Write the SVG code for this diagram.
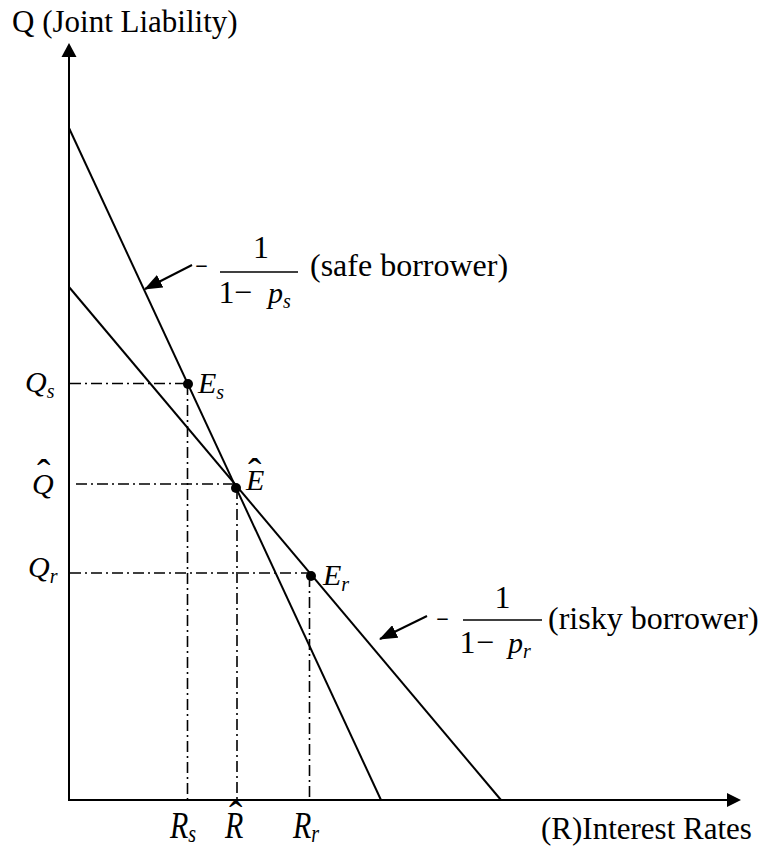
<svg xmlns="http://www.w3.org/2000/svg" width="759" height="847" viewBox="0 0 759 847">
<style>
text{font-family:"Liberation Serif","Times New Roman",serif;fill:#000}
.t{font-size:31px}
.f{font-size:32px}
.m{font-size:30px;font-style:italic}
.sub{font-size:20px;font-style:italic}
.hat{font-size:40px}
.ax{stroke:#000;stroke-width:2;fill:none}
.ln{stroke:#000;stroke-width:2;fill:none}
.dd{stroke:#000;stroke-width:1.6;fill:none;stroke-dasharray:11 4 2 4}
.bar{stroke:#000;stroke-width:1.6}
</style>
<defs>
<marker id="ah" markerUnits="userSpaceOnUse" markerWidth="18" markerHeight="14" refX="17" refY="7" orient="auto">
<path d="M0,0 L18,7 L0,14 z" fill="#000"/>
</marker>
</defs>
<g id="axes">
<line class="ax" x1="69" y1="801" x2="69" y2="56"/>
<polygon points="69,43 61.5,57 76.5,57" fill="#000"/>
<line class="ax" x1="68" y1="800" x2="728" y2="800"/>
<polygon points="741,800 727,793 727,807" fill="#000"/>
<text class="t" x="12" y="32">Q (Joint Liability)</text>
<text class="t" x="541" y="839">(R)Interest Rates</text>
</g>
<g id="connectors">
<line class="ln" x1="69" y1="128" x2="381" y2="800"/>
<line class="ln" x1="69" y1="287" x2="501" y2="800"/>
<line class="dd" x1="70" y1="383.5" x2="188" y2="383.5"/>
<line class="dd" x1="76" y1="484" x2="236" y2="484"/>
<line class="dd" x1="70" y1="573" x2="311" y2="573"/>
<line class="dd" x1="187.5" y1="384" x2="187.5" y2="800"/>
<line class="dd" x1="237" y1="488" x2="237" y2="800"/>
<line class="dd" x1="309.5" y1="576" x2="309.5" y2="800"/>
<line class="ln" x1="192" y1="265" x2="145" y2="289" marker-end="url(#ah)"/>
<line class="ln" x1="427" y1="616" x2="380" y2="639" marker-end="url(#ah)"/>
</g>
<g id="Es">
<circle cx="188" cy="384" r="5"/>
<text class="m" x="198" y="393">E<tspan class="sub" dy="6">s</tspan></text>
</g>
<g id="Ehat">
<circle cx="236" cy="488" r="5"/>
<text class="m" x="246" y="490">E</text>
<text class="hat" x="248" y="486">ˆ</text>
</g>
<g id="Er">
<circle cx="311" cy="576" r="5"/>
<text class="m" x="323" y="585">E<tspan class="sub" dy="6">r</tspan></text>
</g>
<g id="Qlabels">
<text class="m" x="25" y="392">Q<tspan class="sub" dy="6">s</tspan></text>
<text class="m" x="32" y="494">Q</text>
<text class="hat" x="37" y="487">ˆ</text>
<text class="m" x="28" y="577">Q<tspan class="sub" dy="6">r</tspan></text>
</g>
<g id="Rlabels">
<text class="m" transform="translate(170,838) scale(1,1.25)">R<tspan class="sub" dy="3">s</tspan></text>
<text class="m" transform="translate(225,838) scale(1,1.25)">R</text>
<text class="hat" x="229" y="829">ˆ</text>
<text class="m" transform="translate(293,838) scale(1,1.25)">R<tspan class="sub" dy="3">r</tspan></text>
</g>
<g id="safe-label">
<text class="f" transform="translate(195,277) scale(0.7,1)">−</text>
<text class="f" x="261" y="258" text-anchor="middle">1</text>
<line class="bar" x1="220" y1="272" x2="298" y2="272"/>
<text class="f" x="218.5" y="303">1</text>
<text class="f" x="234" y="303">−</text>
<text class="m" x="268" y="303" font-size="32">p<tspan class="sub" dy="5">s</tspan></text>
<text class="f" x="310" y="276">(safe borrower)</text>
</g>
<g id="risky-label">
<text class="f" transform="translate(436,630) scale(0.7,1)">−</text>
<text class="f" x="502.5" y="608" text-anchor="middle">1</text>
<line class="bar" x1="463" y1="620" x2="542" y2="620"/>
<text class="f" x="459.5" y="653">1</text>
<text class="f" x="476" y="653">−</text>
<text class="m" x="508" y="653" font-size="32">p<tspan class="sub" dy="5">r</tspan></text>
<text class="f" x="548" y="629">(risky borrower)</text>
</g>
</svg>
